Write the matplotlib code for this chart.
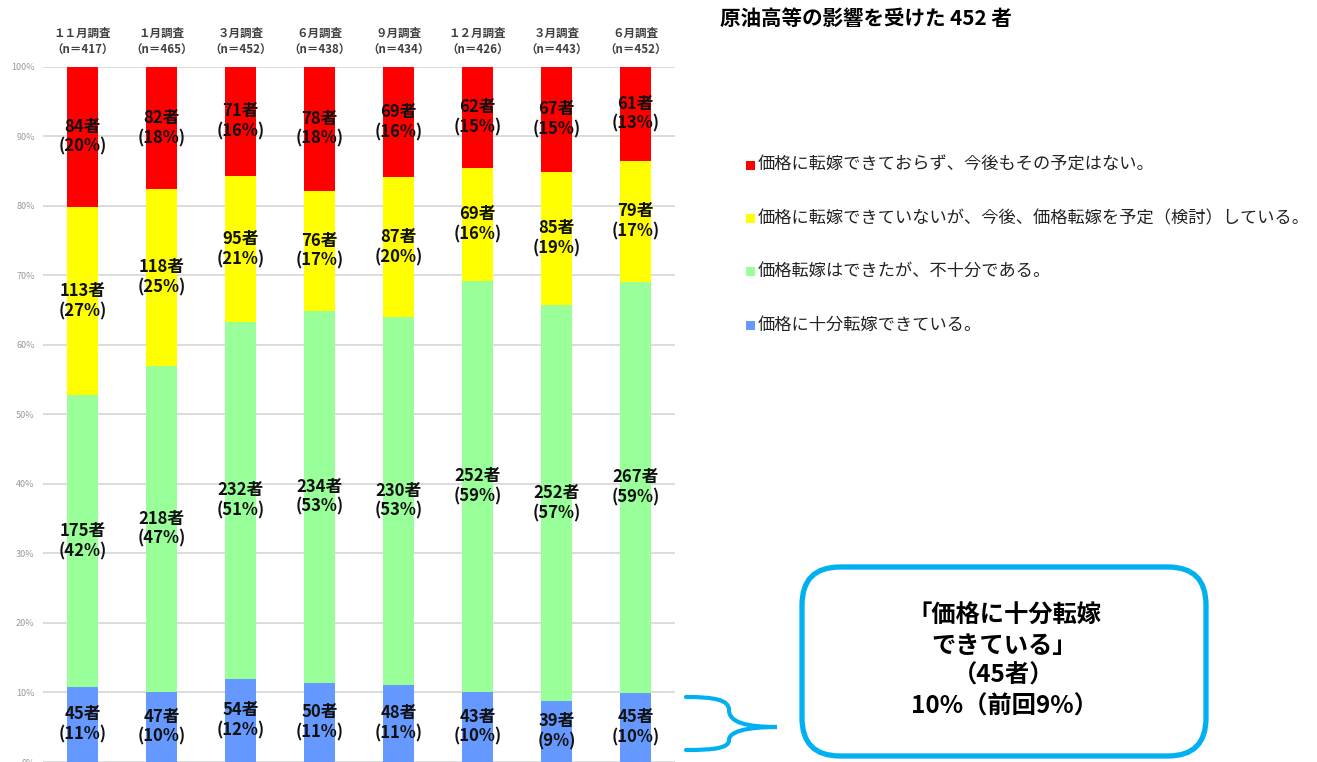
import matplotlib
matplotlib.use("Agg")
import matplotlib.pyplot as plt
from matplotlib.patches import Rectangle, FancyBboxPatch, PathPatch
from matplotlib.path import Path
from matplotlib.transforms import Affine2D
import numpy as np

plt.rcParams['font.family'] = ['Noto Sans CJK JP', 'DejaVu Sans']

# ---- data ----
surveys = ["１１月調査", "１月調査", "３月調査", "６月調査", "９月調査", "１２月調査", "３月調査", "６月調査"]
n_resp = [417, 465, 452, 438, 434, 426, 443, 452]

series_names = [
    "価格に十分転嫁できている。",
    "価格転嫁はできたが、不十分である。",
    "価格に転嫁できていないが、今後、価格転嫁を予定（検討）している。",
    "価格に転嫁できておらず、今後もその予定はない。",
]
counts_full = [45, 47, 54, 50, 48, 43, 39, 45]
counts_partial = [175, 218, 232, 234, 230, 252, 252, 267]
counts_planned = [113, 118, 95, 76, 87, 69, 85, 79]
counts_none = [84, 82, 71, 78, 69, 62, 67, 61]

pct_full = [11, 10, 12, 11, 11, 10, 9, 10]
pct_partial = [42, 47, 51, 53, 53, 59, 57, 59]
pct_planned = [27, 25, 21, 17, 20, 16, 19, 17]
pct_none = [20, 18, 16, 18, 16, 15, 15, 13]

colors = ["#6699FF", "#99FF99", "#FFFF00", "#FF0000"]
y_ticks = [0, 10, 20, 30, 40, 50, 60, 70, 80, 90, 100]

# ---- figure ----
W, H = 1317, 762
fig = plt.figure(figsize=(W / 100, H / 100), dpi=100)
px = Affine2D().scale(1 / W, -1 / H).translate(0, 1) + fig.transFigure

ax = fig.add_axes([43 / W, 0.0, (675 - 43) / W, (762 - 66.7) / H])
x = np.arange(len(surveys))
n = np.array(n_resp, dtype=float)
all_counts = [counts_full, counts_partial, counts_planned, counts_none]
all_pcts = [pct_full, pct_partial, pct_planned, pct_none]

bottom = np.zeros(len(x))
for cnts, pcts, col in zip(all_counts, all_pcts, colors):
    h = np.array(cnts) / n
    ax.bar(x, h, width=0.405, bottom=bottom, color=col, zorder=2)
    for xi, b, hi, c, p in zip(x, bottom, h, cnts, pcts):
        ax.text(xi, b + hi / 2, f"{c}者\n({p}%)", ha="center", va="center",
                fontsize=12, fontweight="bold", color="#111111",
                linespacing=1.15, zorder=3)
    bottom = bottom + h

ax.set_xlim(-0.5, 7.5)
ax.set_ylim(0, 1)
ax.set_yticks([t / 100 for t in y_ticks])
ax.set_yticklabels([f"{t}%" for t in y_ticks], fontsize=6.5, color="#9a9a9a")
ax.tick_params(axis="y", length=0, pad=6)
ax.set_xticks([])
ax.yaxis.grid(True, color="#d9d9d9", linewidth=1.3)
ax.set_axisbelow(True)
for s in ax.spines.values():
    s.set_visible(False)

# headers above bars
xt = ax.get_xaxis_transform()
for xi, s, nn in zip(x, surveys, n_resp):
    ax.text(xi, 1.048, s, transform=xt, ha="center", va="center",
            fontsize=8.3, fontweight="bold", color="#404040", clip_on=False)
    ax.text(xi, 1.024, f"（n＝{nn}）", transform=xt, ha="center", va="center",
            fontsize=8.3, fontweight="bold", color="#404040", clip_on=False)

# title
fig.text(720, 18, f"原油高等の影響を受けた {n_resp[-1]} 者", transform=px,
         ha="left", va="center", fontsize=14.8, fontweight="bold", color="#000000")

# legend (top to bottom: none, planned, partial, full)
leg_y = [165, 218, 271, 325]
for yy, name, col in zip(leg_y, series_names[::-1], colors[::-1]):
    fig.patches.append(Rectangle((746, yy - 4.5), 9, 9, transform=px,
                                 facecolor=col, edgecolor="none"))
    fig.text(758, yy, name, transform=px, ha="left", va="center",
             fontsize=12.4, color="#222222")

# callout box
box = FancyBboxPatch((802, 567), 404, 189,
                     boxstyle="round,pad=0,rounding_size=38",
                     transform=px, facecolor="white", edgecolor="#00B0F0",
                     linewidth=3.8)
fig.patches.append(box)
callout = (f"「価格に十分転嫁\nできている」\n（{counts_full[-1]}者）\n"
           f"{pct_full[-1]}%（前回{pct_full[-2]}%）")
fig.text(1004, 661, callout, transform=px, ha="center", va="center",
         fontsize=17.5, fontweight="bold", color="#000000", linespacing=1.32,
         multialignment="center")

# brace
verts = [(686, 697), (715, 697), (729, 700), (729, 710),
         (729, 722), (745, 727), (777, 727),
         (745, 727), (729, 732), (729, 740),
         (729, 748), (715, 750), (686, 750)]
codes = [Path.MOVETO] + [Path.CURVE4] * 12
fig.patches.append(PathPatch(Path(verts, codes), transform=px, facecolor="none",
                             edgecolor="#00B0F0", linewidth=3, capstyle="round"))

fig.savefig("out.png", dpi=100)
